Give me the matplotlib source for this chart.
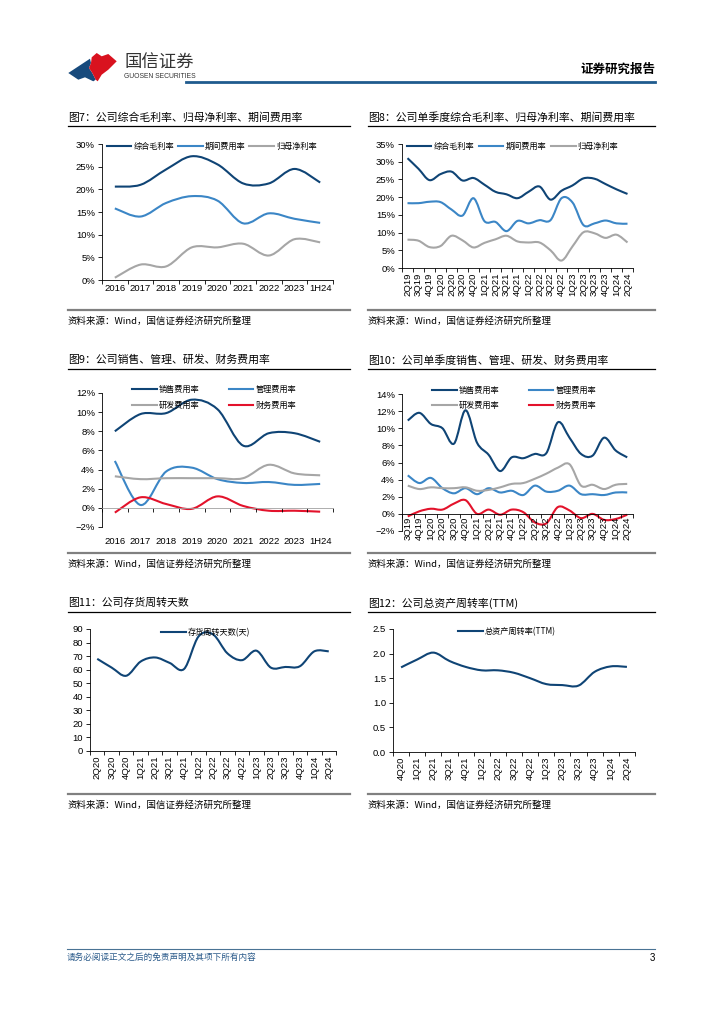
import numpy as np
import matplotlib
matplotlib.use('Agg')
import matplotlib.pyplot as plt
from matplotlib.path import Path
from matplotlib.patches import PathPatch, Polygon
from matplotlib.lines import Line2D
from matplotlib.ticker import PercentFormatter, FormatStrFormatter

plt.rcParams['font.family'] = ['Liberation Sans', 'Noto Sans CJK SC', 'DejaVu Sans']
plt.rcParams['axes.linewidth'] = 0.6

# colours
NAVY = '#0f4475'
BLUE = '#3b86c6'
GRAY = '#a6a6a6'
RED = '#e3122b'

# ---- data ----
years = ['2016', '2017', '2018', '2019', '2020', '2021', '2022', '2023', '1H24']
years9 = ['2016', '2017', '2018', '2019', '2020', '2021', '2022', '2023', '1H24']

# fig 7 annual margins (%)
gross_y = [20.6, 21.0, 24.4, 27.3, 25.5, 21.3, 21.3, 24.5, 21.5]
expense_y = [15.8, 14.0, 17.0, 18.5, 17.5, 12.5, 14.7, 13.5, 12.6]
net_y = [0.5, 3.4, 3.0, 7.2, 7.2, 8.0, 5.4, 9.0, 8.3]

# fig 8 quarterly margins (%)
q8 = ['2Q19', '3Q19', '4Q19', '1Q20', '2Q20', '3Q20', '4Q20', '1Q21', '2Q21', '3Q21', '4Q21',
      '1Q22', '2Q22', '3Q22', '4Q22', '1Q23', '2Q23', '3Q23', '4Q23', '1Q24', '2Q24']
gross_q = [31.0, 28.0, 24.8, 26.5, 27.2, 24.7, 25.4, 23.5, 21.5, 20.8, 19.7,
           21.5, 23.0, 19.3, 21.8, 23.3, 25.3, 25.2, 23.7, 22.2, 20.9]
expense_q = [18.3, 18.3, 18.7, 18.6, 16.5, 14.8, 19.7, 13.2, 13.0, 10.4, 13.3,
             12.6, 13.5, 13.5, 19.7, 18.5, 12.1, 12.6, 13.4, 12.6, 12.5]
net_q = [8.0, 7.7, 5.9, 6.2, 9.1, 7.8, 5.8, 7.1, 8.1, 9.1, 7.5,
         7.2, 7.2, 5.0, 2.1, 6.1, 10.1, 9.8, 8.5, 9.4, 7.2]

# fig 9 annual expense breakdown (%)
sales_y = [8.0, 9.8, 9.9, 11.3, 10.3, 6.5, 7.8, 7.8, 6.9]
admin_y = [4.9, 0.3, 3.8, 4.2, 3.0, 2.6, 2.7, 2.4, 2.5]
rnd_y = [3.3, 3.0, 3.1, 3.1, 3.1, 3.1, 4.5, 3.6, 3.4]
fin_y = [-0.5, 1.1, 0.4, -0.1, 1.2, 0.2, -0.3, -0.3, -0.4]

# fig 10 quarterly expense breakdown (%)
q10 = ['3Q19', '4Q19', '1Q20', '2Q20', '3Q20', '4Q20', '1Q21', '2Q21', '3Q21', '4Q21',
       '1Q22', '2Q22', '3Q22', '4Q22', '1Q23', '2Q23', '3Q23', '4Q23', '1Q24', '2Q24']
sales_q = [10.9, 11.8, 10.5, 10.0, 8.2, 12.1, 8.3, 6.9, 5.0, 6.6,
           6.5, 7.0, 7.1, 10.7, 8.9, 7.0, 6.8, 8.9, 7.4, 6.6]
admin_q = [4.5, 3.6, 4.2, 3.0, 2.4, 3.0, 2.3, 3.0, 2.5, 2.7,
           2.2, 3.3, 2.6, 2.7, 3.3, 2.3, 2.3, 2.2, 2.5, 2.5]
rnd_q = [3.3, 2.9, 3.1, 3.0, 3.0, 3.1, 2.7, 2.8, 3.1, 3.5,
         3.6, 4.1, 4.7, 5.4, 5.8, 3.3, 3.4, 2.9, 3.4, 3.5]
fin_q = [-0.3, 0.3, 0.6, 0.5, 1.2, 1.6, 0.0, 0.5, -0.1, 0.5,
         0.2, -1.0, -1.1, 0.8, 0.4, -0.5, 0.0, -0.7, -0.6, -0.1]

# fig 11 inventory turnover days
q11 = ['2Q20', '3Q20', '4Q20', '1Q21', '2Q21', '3Q21', '4Q21', '1Q22', '2Q22',
       '3Q22', '4Q22', '1Q23', '2Q23', '3Q23', '4Q23', '1Q24', '2Q24']
inv_days = [68, 61.5, 55.5, 66, 69, 65, 60.5, 84.5, 86, 72, 67, 74, 61.5, 62, 62.5, 73.5, 73.5]

# fig 12 total asset turnover (TTM)
q12 = ['4Q20', '1Q21', '2Q21', '3Q21', '4Q21', '1Q22', '2Q22', '3Q22', '4Q22',
       '1Q23', '2Q23', '3Q23', '4Q23', '1Q24', '2Q24']
asset_turn = [1.72, 1.88, 2.02, 1.85, 1.73, 1.66, 1.66, 1.61, 1.50, 1.38, 1.36, 1.35, 1.63, 1.74, 1.73]

SOURCE = '资料来源：Wind，国信证券经济研究所整理'
CJK = ['Noto Sans CJK SC', 'DejaVu Sans']

W, H = 724, 1024
fig = plt.figure(figsize=(W / 100, H / 100), dpi=100)


def rect(x0, y0, x1, y1):
    return [x0 / W, 1 - y1 / H, (x1 - x0) / W, (y1 - y0) / H]


def ftext(x, y, s, **kw):
    fig.text(x / W, 1 - y / H, s, **kw)


def fline(x0, x1, y, color, lw):
    fig.add_artist(Line2D([x0 / W, x1 / W], [1 - y / H, 1 - y / H],
                          transform=fig.transFigure, color=color, lw=lw))


def smooth(ax, vals, color, lw=1.5, label=None):
    # excel-style smoothed line (catmull-rom through the points)
    pts = np.column_stack([np.arange(len(vals)), vals]).astype(float)
    ext = np.vstack([pts[0], pts, pts[-1]])
    verts = [pts[0]]
    codes = [Path.MOVETO]
    for i in range(len(pts) - 1):
        p0, p1, p2, p3 = ext[i], ext[i + 1], ext[i + 2], ext[i + 3]
        verts += [p1 + (p2 - p0) / 6, p2 - (p3 - p1) / 6, p2]
        codes += [Path.CURVE4] * 3
    ax.add_patch(PathPatch(Path(verts, codes), fill=False, edgecolor=color,
                           lw=lw, joinstyle='round', capstyle='butt'))
    return Line2D([], [], color=color, lw=lw, label=label)


def base_axes(r, labels, ylim, yticks, rotate=False, zero_axis=False, label_pad=3):
    ax = fig.add_axes(rect(*r))
    for s in ['top', 'right']:
        ax.spines[s].set_visible(False)
    if zero_axis:
        ax.spines['bottom'].set_position(('data', 0))
    n = len(labels)
    ax.set_xlim(-0.5, n - 0.5)
    ax.set_ylim(*ylim)
    ax.set_yticks(yticks)
    ax.set_xticks(np.arange(n + 1) - 0.5)
    ax.set_xticklabels([])
    ax.set_xticks(np.arange(n), minor=True)
    ax.set_xticklabels(labels, minor=True, rotation=90 if rotate else 0,
                       va='top', ha='center')
    ax.tick_params(axis='x', which='major', direction='out', length=3, width=0.6)
    ax.tick_params(axis='x', which='minor', length=0, labelsize=6.8, pad=label_pad)
    ax.tick_params(axis='y', direction='out', length=3, width=0.6, labelsize=6.8, pad=2)
    ax.patch.set_alpha(0)
    return ax


def section(x0, x1, ty, title, src_y):
    ftext(x0, ty, title, fontsize=7.8, va='center', ha='left', family=CJK)
    fline(x0, x1, ty + 9, '#000000', 0.9)
    fline(x0, x1, src_y, '#808080', 1.6)
    ftext(x0, src_y + 11, SOURCE, fontsize=6.8, va='center', ha='left', family=CJK)


LEG = dict(frameon=False, prop={'family': CJK, 'size': 5.9},
           handletextpad=0.25, borderaxespad=0, borderpad=0)

# ---- header ----
blue_logo = [(68.3, 73), (90, 58.7), (91, 63), (89, 68), (92.3, 73), (95.7, 79.7),
             (93.3, 81.3), (85, 77.3), (78.3, 79.7)]
red_logo = [(91.7, 57.3), (96.7, 53), (101.7, 56.3), (108.3, 54), (116.7, 61.3),
            (108.3, 69.7), (101.7, 74.7), (97.7, 81.3), (95.7, 79.7), (92.3, 73),
            (89, 68), (91, 63)]
for pts, c in [(blue_logo, '#174a7c'), (red_logo, '#d9121f')]:
    fig.add_artist(Polygon([(x / W, 1 - y / H) for x, y in pts], closed=True,
                           transform=fig.transFigure, color=c, lw=0))
ftext(124, 63, '国信证券', fontsize=12.5, va='center', ha='left',
      family=['Noto Sans CJK SC'], color='#333333')
ftext(124, 77, 'GUOSEN SECURITIES', fontsize=4.9, va='center', ha='left', color='#333333')
ftext(655, 69, '证券研究报告', fontsize=9, va='center', ha='right', weight='bold',
      family=['Noto Sans CJK SC'])
fline(186, 655, 82, '#1f5b8e', 2.0)

# ---- footer ----
fline(67, 655, 949, '#4a7394', 0.8)
ftext(67, 957, '请务必阅读正文之后的免责声明及其项下所有内容', fontsize=6.2, va='center',
      ha='left', color='#2a5a8a', family=['Noto Sans CJK SC'])
ftext(655, 958, '3', fontsize=7, va='center', ha='right')

# ---- fig 7 ----
section(68, 350, 117, '图7：公司综合毛利率、归母净利率、期间费用率', 310)
ax = base_axes((102, 144, 333, 280), years, (0, 30), np.arange(0, 31, 5))
ax.yaxis.set_major_formatter(PercentFormatter(decimals=0))
h = [smooth(ax, gross_y, NAVY, label='综合毛利率'),
     smooth(ax, expense_y, BLUE, label='期间费用率'),
     smooth(ax, net_y, GRAY, label='归母净利率')]
ax.legend(handles=h, loc='center left', bbox_to_anchor=(0.02, 0.98), ncol=3,
          handlelength=3.0, columnspacing=0.5, **LEG)

# ---- fig 8 ----
section(368, 655, 117, '图8：公司单季度综合毛利率、归母净利率、期间费用率', 310)
ax = base_axes((402, 144, 633, 268), q8, (0, 35), np.arange(0, 36, 5), rotate=True)
ax.yaxis.set_major_formatter(PercentFormatter(decimals=0))
h = [smooth(ax, gross_q, NAVY, label='综合毛利率'),
     smooth(ax, expense_q, BLUE, label='期间费用率'),
     smooth(ax, net_q, GRAY, label='归母净利率')]
ax.legend(handles=h, loc='center left', bbox_to_anchor=(0.02, 0.98), ncol=3,
          handlelength=3.0, columnspacing=0.6, **LEG)

# ---- fig 9 ----
section(68, 350, 360, '图9：公司销售、管理、研发、财务费用率', 553)
ax = base_axes((102, 393, 333, 527), years9, (-2, 12), np.arange(-2, 13, 2),
               zero_axis=True, label_pad=21)
ax.yaxis.set_major_formatter(PercentFormatter(decimals=0))
ax.spines['bottom'].set_color('#a0a0a0')
h_sales = smooth(ax, sales_y, NAVY, label='销售费用率')
h_admin = smooth(ax, admin_y, BLUE, label='管理费用率')
h_rnd = smooth(ax, rnd_y, GRAY, label='研发费用率')
h_fin = smooth(ax, fin_y, RED, label='财务费用率')
ax.legend(handles=[h_sales, h_rnd, h_admin, h_fin], loc='upper left',
          bbox_to_anchor=(0.13, 1.06), ncol=2, handlelength=3.0,
          columnspacing=3.6, labelspacing=0.8, **LEG)

# ---- fig 10 ----
section(368, 655, 360, '图10：公司单季度销售、管理、研发、财务费用率', 553)
ax = base_axes((402, 394, 633, 531), q10, (-2, 14), np.arange(-2, 15, 2),
               rotate=True, zero_axis=True, label_pad=2)
ax.yaxis.set_major_formatter(PercentFormatter(decimals=0))
h_sales = smooth(ax, sales_q, NAVY, label='销售费用率')
h_admin = smooth(ax, admin_q, BLUE, label='管理费用率')
h_rnd = smooth(ax, rnd_q, GRAY, label='研发费用率')
h_fin = smooth(ax, fin_q, RED, label='财务费用率')
ax.legend(handles=[h_sales, h_rnd, h_admin, h_fin], loc='upper left',
          bbox_to_anchor=(0.13, 1.06), ncol=2, handlelength=3.0,
          columnspacing=3.6, labelspacing=0.8, **LEG)

# ---- fig 11 ----
section(68, 350, 603, '图11：公司存货周转天数', 794)
ax = base_axes((90, 629, 336, 751), q11, (0, 90), np.arange(0, 91, 10), rotate=True)
h = [smooth(ax, inv_days, NAVY, label='存货周转天数(天)')]
ax.legend(handles=h, loc='center left', bbox_to_anchor=(0.29, 0.97), handlelength=3.0, **LEG)

# ---- fig 12 ----
section(368, 655, 603, '图12：公司总资产周转率(TTM)', 794)
ax = base_axes((393, 629, 635, 752), q12, (0, 2.5), np.arange(0, 2.51, 0.5), rotate=True)
ax.yaxis.set_major_formatter(FormatStrFormatter('%.1f'))
h = [smooth(ax, asset_turn, NAVY, label='总资产周转率(TTM)')]
ax.legend(handles=h, loc='center left', bbox_to_anchor=(0.27, 0.98), handlelength=3.0, **LEG)

fig.savefig('out.png', dpi=100)
